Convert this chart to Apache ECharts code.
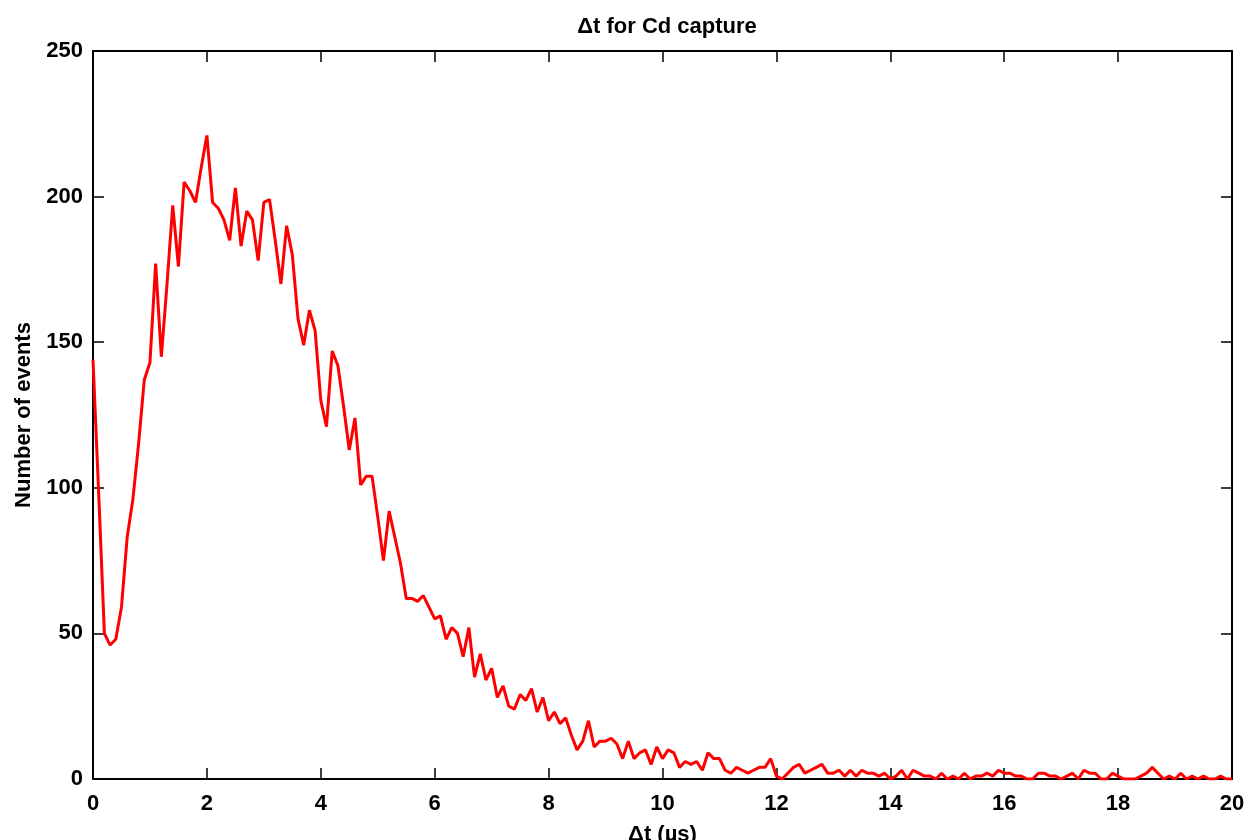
<!DOCTYPE html>
<html>
<head>
<meta charset="utf-8">
<title>Δt for Cd capture</title>
<script src="https://cdn.jsdelivr.net/npm/echarts@6/dist/echarts.min.js"></script>
<style>
    html, body { margin: 0; padding: 0; background: #fff; }
    #chart { width: 1249px; height: 840px; }
</style>
</head>
<body>
<div id="chart"></div>
<script>
    // histogram of Δt, bins of 0.1 µs starting at 0
    const binStart = 0
    const binWidth = 0.1
    const counts = [
        144, 98, 50, 46, 48, 59, 83, 96, 115, 137,
        143, 177, 145, 170, 197, 176, 205, 202, 198, 210,
        221, 198, 196, 192, 185, 203, 183, 195, 192, 178,
        198, 199, 185, 170, 190, 180, 158, 149, 161, 154,
        130, 121, 147, 142, 128, 113, 124, 101, 104, 104,
        90, 75, 92, 83, 74, 62, 62, 61, 63, 59,
        55, 56, 48, 52, 50, 42, 52, 35, 43, 34,
        38, 28, 32, 25, 24, 29, 27, 31, 23, 28,
        20, 23, 19, 21, 15, 10, 13, 20, 11, 13,
        13, 14, 12, 7, 13, 7, 9, 10, 5, 11,
        7, 10, 9, 4, 6, 5, 6, 3, 9, 7,
        7, 3, 2, 4, 3, 2, 3, 4, 4, 7,
        1, 0, 2, 4, 5, 2, 3, 4, 5, 2,
        2, 3, 1, 3, 1, 3, 2, 2, 1, 2,
        0, 1, 3, 0, 3, 2, 1, 1, 0, 2,
        0, 1, 0, 2, 0, 1, 1, 2, 1, 3,
        2, 2, 1, 1, 0, 0, 2, 2, 1, 1,
        0, 1, 2, 0, 3, 2, 2, 0, 0, 2,
        1, 0, 0, 0, 1, 2, 4, 2, 0, 1,
        0, 2, 0, 1, 0, 1, 0, 0, 1, 0,
        0
    ]
    const xTicks = { min: 0, max: 20, interval: 2 }
    const yTicks = { min: 0, max: 250, interval: 50 }

    const font = '"Liberation Sans", Arial, Helvetica, sans-serif'
    const points = counts.map((c, i) => [+(binStart + i * binWidth).toFixed(2), c])

    const axisLine = { show: true, onZero: false, lineStyle: { color: '#000', width: 2 } }
    const axisTick = { show: true, inside: true, length: 11, lineStyle: { color: '#000', width: 1.5 } }
    const textBase = { color: '#000', fontSize: 22, fontWeight: 'bold', fontFamily: font }

    const chart = echarts.init(document.getElementById('chart'), null, { renderer: 'canvas' })
    chart.setOption({
        animation: false,
        backgroundColor: '#fff',
        title: {
            text: 'Δt for Cd capture',
            left: 662,
            textAlign: 'center',
            top: 11,
            textStyle: textBase
        },
        grid: { left: 93, right: 17, top: 51, bottom: 61, containLabel: false, outerBoundsMode: 'none' },
        xAxis: [
            {
                type: 'value',
                position: 'bottom',
                ...xTicks,
                name: 'Δt (µs)',
                nameLocation: 'middle',
                nameGap: 45,
                nameTextStyle: textBase,
                axisLine,
                axisTick,
                axisLabel: { ...textBase, margin: 14 },
                splitLine: { show: false }
            },
            {
                type: 'value',
                position: 'top',
                ...xTicks,
                axisLine,
                axisTick,
                axisLabel: { show: false },
                splitLine: { show: false }
            }
        ],
        yAxis: [
            {
                type: 'value',
                position: 'left',
                ...yTicks,
                name: 'Number of events',
                nameLocation: 'middle',
                nameGap: 56,
                nameTextStyle: textBase,
                axisLine,
                axisTick,
                axisLabel: { ...textBase, margin: 10 },
                splitLine: { show: false }
            },
            {
                type: 'value',
                position: 'right',
                ...yTicks,
                axisLine,
                axisTick,
                axisLabel: { show: false },
                splitLine: { show: false }
            }
        ],
        series: [
            {
                type: 'line',
                xAxisIndex: 0,
                yAxisIndex: 0,
                data: points,
                showSymbol: false,
                clip: true,
                lineStyle: { color: '#ff0000', width: 3 },
                itemStyle: { color: '#ff0000' }
            }
        ]
    })
</script>
</body>
</html>
